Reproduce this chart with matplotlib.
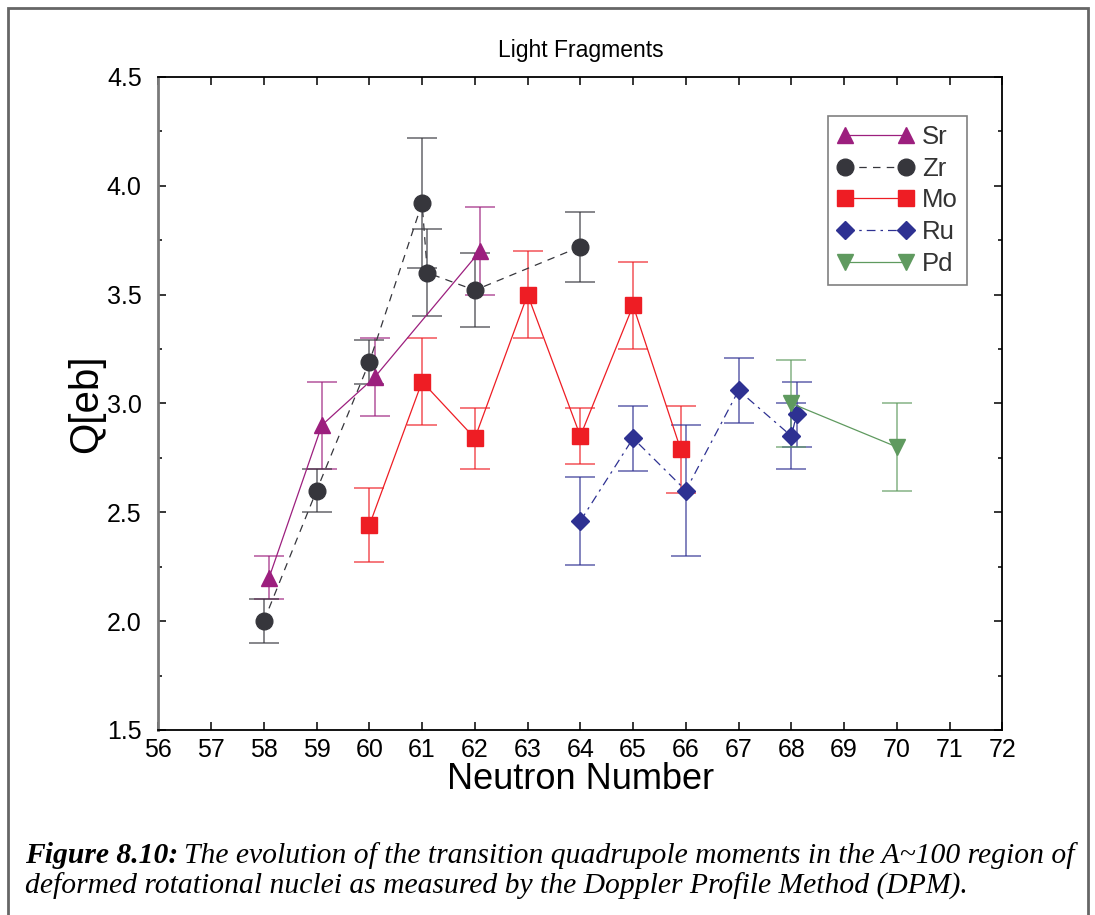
import matplotlib
matplotlib.use("Agg")
import matplotlib.pyplot as plt
from matplotlib.ticker import MultipleLocator
from matplotlib.patches import Rectangle


# neutron number, Q[eb] and symmetric error for each element
sr_n = [58.1, 59.1, 60.1, 62.1]
sr_q = [2.20, 2.90, 3.12, 3.70]
sr_err = [0.10, 0.20, 0.18, 0.20]

zr_n = [58.0, 59.0, 60.0, 61.0, 61.1, 62.0, 64.0]
zr_q = [2.00, 2.60, 3.19, 3.92, 3.60, 3.52, 3.72]
zr_err = [0.10, 0.10, 0.10, 0.30, 0.20, 0.17, 0.16]

mo_n = [60.0, 61.0, 62.0, 63.0, 64.0, 65.0, 65.9]
mo_q = [2.44, 3.10, 2.84, 3.50, 2.85, 3.45, 2.79]
mo_err = [0.17, 0.20, 0.14, 0.20, 0.13, 0.20, 0.20]

ru_n = [64.0, 65.0, 66.0, 67.0, 68.0, 68.1]
ru_q = [2.46, 2.84, 2.60, 3.06, 2.85, 2.95]
ru_err = [0.20, 0.15, 0.30, 0.15, 0.15, 0.15]

pd_n = [68.0, 70.0]
pd_q = [3.00, 2.80]
pd_err = [0.20, 0.20]

x_ticks = list(range(56, 73))

SANS = "Liberation Sans"
SERIF = "Liberation Serif"

fig = plt.figure(figsize=(10.95, 9.15), dpi=100)
ax = fig.add_axes([0.1446, 0.2022, 0.7708, 0.7138])

series = [
    # name, x, y, err, color, marker, ms, linestyle
    ("Sr", sr_n, sr_q, sr_err, "#9C1F7E", "^", 12, "-"),
    ("Zr", zr_n, zr_q, zr_err, "#36363C", "o", 12, (0, (6, 5))),
    ("Mo", mo_n, mo_q, mo_err, "#EE1D24", "s", 11, "-"),
    ("Ru", ru_n, ru_q, ru_err, "#2E3192", "D", 9, (0, (7, 4, 2, 4))),
    ("Pd", pd_n, pd_q, pd_err, "#5F9A5F", "v", 12, "-"),
]

handles = []
for name, xs, ys, es, col, mk, ms, ls in series:
    ax.errorbar(xs, ys, yerr=es, fmt="none", ecolor=col, elinewidth=1.4,
                capsize=11, capthick=1.4, alpha=0.6, zorder=2)
    ln, = ax.plot(xs, ys, color=col, lw=0.9, ls=ls, marker=mk, ms=ms,
                  mec=col, mfc=col, label=name, zorder=3)
    handles.append(ln)

ax.set_xlim(56, 72)
ax.set_ylim(1.5, 4.5)
ax.set_xticks(x_ticks)
ax.yaxis.set_major_locator(MultipleLocator(0.5))
ax.yaxis.set_minor_locator(MultipleLocator(0.25))
ax.yaxis.set_major_formatter(plt.FormatStrFormatter("%.1f"))
ax.tick_params(axis="both", which="major", direction="in", length=6,
               width=1.1, top=True, right=True, labelsize=18)
ax.tick_params(axis="x", which="major", pad=6)
ax.tick_params(axis="y", which="major", pad=12)
ax.tick_params(axis="y", which="minor", direction="in", length=3,
               width=1.1, right=True)
for lab in ax.get_xticklabels() + ax.get_yticklabels():
    lab.set_fontfamily(SANS)

for side in ["top", "right", "bottom"]:
    ax.spines[side].set_linewidth(1.3)
    ax.spines[side].set_color("black")
ax.spines["left"].set_linewidth(2)
ax.spines["left"].set_color("#7a7a7a")

ax.set_title("Light Fragments", fontsize=16.5, family=SANS, pad=14)
ax.set_xlabel("Neutron Number", fontsize=26, family=SANS, labelpad=0)
ax.set_ylabel("Q[eb]", fontsize=29, family=SANS, labelpad=1)

leg = ax.legend(handles=handles, loc="upper left",
                bbox_to_anchor=(0.7935, 0.94), borderaxespad=0,
                numpoints=2, handlelength=3.0, handletextpad=0.3,
                labelspacing=0.3, borderpad=0.35, fancybox=False,
                framealpha=1, edgecolor="#808080",
                prop={"family": SANS, "size": 18.5})
leg.get_frame().set_linewidth(1.2)
for t in leg.get_texts():
    t.set_color("#333333")

# outer frame of the figure panel
fig.patches.append(Rectangle((8 / 1095, -0.01), 1080 / 1095, 1 - 8 / 915 + 0.01,
                             transform=fig.transFigure, fill=False,
                             edgecolor="#666666", lw=2))

# caption: bold-italic prefix, then italic text
cap_size = 21.3
x0 = 25 / 1095
y1 = 1 - 863 / 915
y2 = 1 - 894 / 915
t1 = fig.text(x0, y1, "Figure 8.10:", family=SERIF, style="italic",
              weight="bold", fontsize=cap_size, va="baseline")
fig.canvas.draw()
ext = t1.get_window_extent(fig.canvas.get_renderer())
fig.text((ext.x1 + 6) / 1095, y1,
         "The evolution of the transition quadrupole moments in the A~100 region of",
         family=SERIF, style="italic", fontsize=cap_size, va="baseline")
fig.text(x0, y2,
         "deformed rotational nuclei as measured by the Doppler Profile Method (DPM).",
         family=SERIF, style="italic", fontsize=cap_size, va="baseline")

fig.savefig("out.png", dpi=100)
